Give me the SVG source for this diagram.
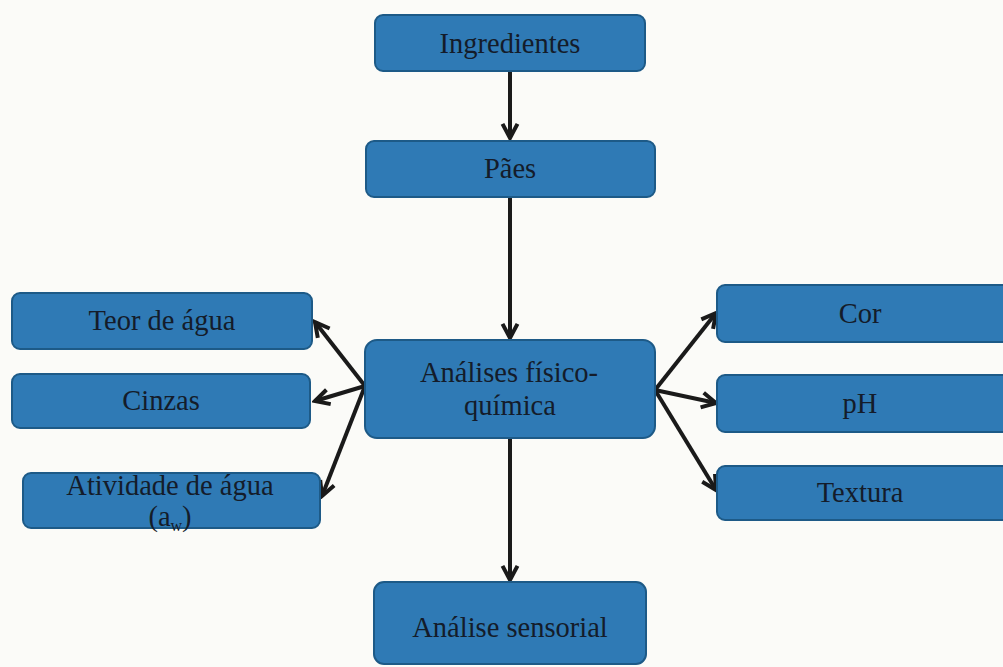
<svg xmlns="http://www.w3.org/2000/svg" width="1003" height="667" viewBox="0 0 1003 667">
<style>
.box{fill:#2f7ab5;stroke:#1d5a87;stroke-width:2}
.t{font-family:"Liberation Serif","Times New Roman",serif;font-size:28.5px;fill:#141c2a;text-anchor:middle}
.c{stroke:#1a1a1a;stroke-width:4;fill:none;marker-end:url(#ah)}
</style>
<defs>
<marker id="ah" viewBox="0 0 12 12" refX="10" refY="6" markerWidth="5" markerHeight="5" orient="auto" markerUnits="strokeWidth">
<path d="M1.5,1.5 L10,6 L1.5,10.5" fill="none" stroke="#1a1a1a" stroke-width="2.4" stroke-linejoin="miter"/>
</marker>
</defs>
<rect width="1003" height="667" fill="#fbfbf8"/>
<g id="connectors">
<line class="c" x1="510" y1="71" x2="510" y2="138"/>
<line class="c" x1="510" y1="197" x2="510" y2="338"/>
<line class="c" x1="510" y1="438" x2="510" y2="580"/>
<line class="c" x1="365" y1="386" x2="315" y2="322"/>
<line class="c" x1="365" y1="386" x2="315" y2="401"/>
<line class="c" x1="365" y1="386" x2="322" y2="496"/>
<line class="c" x1="655" y1="390" x2="716" y2="313"/>
<line class="c" x1="655" y1="390" x2="716" y2="403"/>
<line class="c" x1="655" y1="390" x2="716" y2="490"/>
</g>
<g id="ingredientes"><rect class="box" x="375" y="15" width="270" height="56" rx="8"/><text class="t" x="510" y="53">Ingredientes</text></g>
<g id="paes"><rect class="box" x="366" y="141" width="289" height="56" rx="8"/><text class="t" x="510" y="178">Pães</text></g>
<g id="analises"><rect class="box" x="365" y="340" width="290" height="98" rx="12"/><text class="t" x="509" y="382">Análises físico-</text><text class="t" x="510" y="415">química</text></g>
<g id="sensorial"><rect class="box" x="374" y="582" width="272" height="82" rx="10"/><text class="t" x="510" y="637">Análise sensorial</text></g>
<g id="teor"><rect class="box" x="12" y="293" width="300" height="56" rx="8"/><text class="t" x="162" y="330">Teor de água</text></g>
<g id="cinzas"><rect class="box" x="12" y="374" width="298" height="54" rx="8"/><text class="t" x="161" y="410">Cinzas</text></g>
<g id="atividade"><rect class="box" x="23" y="473" width="297" height="55" rx="8"/><text class="t" x="170" y="495">Atividade de água</text><text class="t" x="170" y="526">(a<tspan font-size="16" dy="5">w</tspan><tspan dy="-5">)</tspan></text></g>
<g id="cor"><rect class="box" x="717" y="285" width="296" height="57" rx="8"/><text class="t" x="860" y="323">Cor</text></g>
<g id="ph"><rect class="box" x="717" y="375" width="296" height="57" rx="8"/><text class="t" x="860" y="413">pH</text></g>
<g id="textura"><rect class="box" x="717" y="466" width="296" height="54" rx="8"/><text class="t" x="860" y="502">Textura</text></g>
</svg>
